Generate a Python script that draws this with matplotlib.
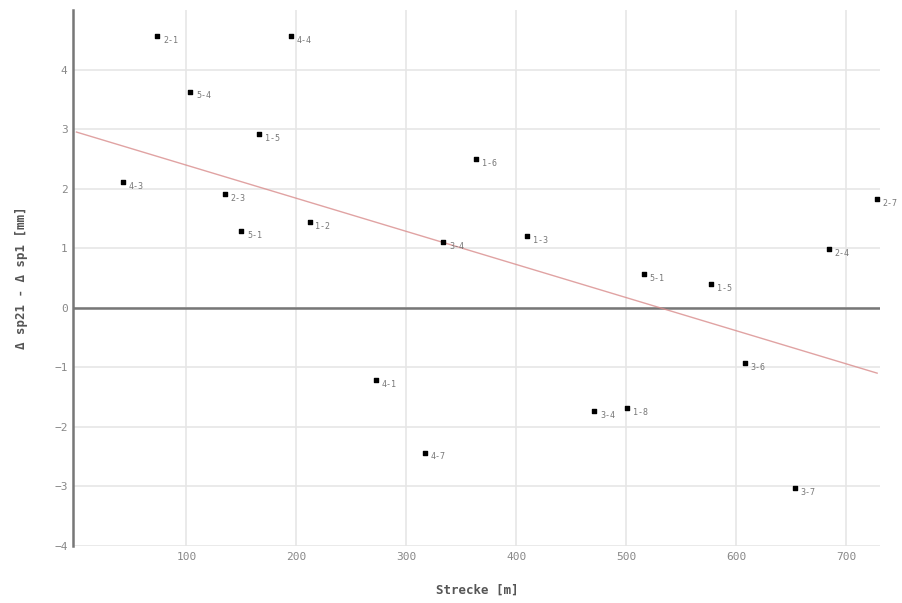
import matplotlib
matplotlib.use("Agg")
import matplotlib.pyplot as plt
import numpy as np

# data
strecke = [73.6, 195, 103.6, 166, 42.7, 135, 150, 212, 363.6, 333.6, 410,
           516, 577, 684.5, 728, 272, 317, 471, 501, 608, 653]
delta = [4.56, 4.56, 3.63, 2.91, 2.11, 1.91, 1.29, 1.44, 2.50, 1.11, 1.21,
         0.57, 0.40, 0.99, 1.83, -1.21, -2.43, -1.74, -1.69, -0.92, -3.03]
labels = ["2-1", "4-4", "5-4", "1-5", "4-3", "2-3", "5-1", "1-2", "1-6", "3-4", "1-3",
          "5-1", "1-5", "2-4", "2-7", "4-1", "4-7", "3-4", "1-8", "3-6", "3-7"]
fit_intercept = 2.95
fit_slope = -0.00556
xticks = [100, 200, 300, 400, 500, 600, 700]
yticks = [-4, -3, -2, -1, 0, 1, 2, 3, 4]

fig = plt.figure(figsize=(9.03, 6.03), dpi=100)
ax = fig.add_axes([0.081, 0.0945, 0.894, 0.889])
ax.set_xlim(-3, 731)
ax.set_ylim(-4, 5.0)

ax.grid(True, color="#e6e6e6", linewidth=1.2)
ax.set_axisbelow(True)
for s in ["top", "right", "bottom"]:
    ax.spines[s].set_visible(False)
ax.spines["left"].set_color("#777777")
ax.spines["left"].set_linewidth(1.8)

ax.axhline(0, color="#777777", linewidth=1.8, zorder=2)

xl = np.array([0, 728])
ax.plot(xl, fit_intercept + fit_slope * xl, color="#d98c8c", linewidth=1.0, alpha=0.8, zorder=3)

ax.scatter(strecke, delta, marker="s", s=10, color="black", zorder=4)
for x, y, t in zip(strecke, delta, labels):
    ax.annotate(t, (x, y), xytext=(4, -5), textcoords="offset points",
                fontsize=6, color="#777777", family="DejaVu Sans Mono")

ax.set_xticks(xticks)
ax.set_yticks(yticks)
ax.tick_params(length=0, labelsize=8, labelcolor="#888888", pad=4)
for lab in ax.get_xticklabels() + ax.get_yticklabels():
    lab.set_family("DejaVu Sans Mono")

ax.set_xlabel("Strecke [m]", fontsize=9, color="#555555", family="DejaVu Sans Mono",
              fontweight="bold", labelpad=16)
ax.set_ylabel("Δ sp21 - Δ sp1 [mm]", fontsize=9, color="#555555", family="DejaVu Sans Mono",
              fontweight="bold", labelpad=19)

fig.savefig("out.png", dpi=100, facecolor="white")
